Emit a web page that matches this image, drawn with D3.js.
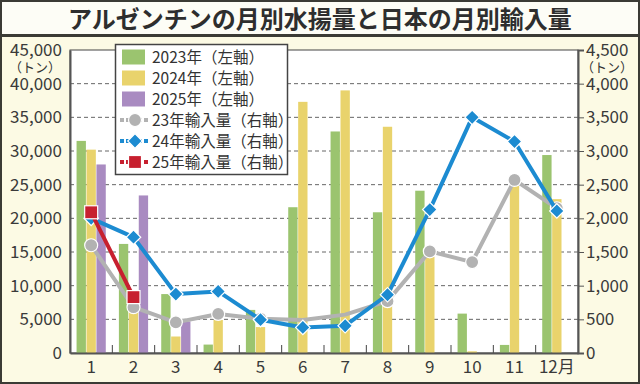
<!DOCTYPE html>
<html>
<head>
<meta charset="utf-8">
<script src="https://cdn.jsdelivr.net/npm/d3@7"></script>
<style>
  body { margin: 0; background: #fff; }
  svg { display: block; }
  text { font-family: "Noto Sans CJK JP", "Noto Sans", sans-serif; fill: #333; }
</style>
</head>
<body>
<div id="chart"></div>
<script>
// 月別データ
const months = ["1", "2", "3", "4", "5", "6", "7", "8", "9", "10", "11", "12月"];
const catch2023 = [31500, 16200, 8750, 1250, 6400, 21650, 32900, 20900, 24100, 5850, 1200, 29400];
const catch2024 = [30200, 6200, 2450, 4900, 3850, 37300, 39000, 33600, 14300, 250, 24800, 22850];
const catch2025 = [28000, 23400, 4700, null, null, null, null, null, null, null, null, null];
const import23 = [1600, 680, 455, 580, 510, 490, 570, 770, 1510, 1350, 2570, 2150];
const import24 = [2000, 1720, 875, 915, 495, 380, 405, 865, 2130, 3500, 3140, 2110];
const import25 = [2090, 830];
const leftTicks = [0, 5000, 10000, 15000, 20000, 25000, 30000, 35000, 40000, 45000];
const rightTicks = [0, 500, 1000, 1500, 2000, 2500, 3000, 3500, 4000, 4500];
// 23年の線で印が見えない月
const hidden23 = ["6", "7"];

const W = 640, H = 384;
const plot = {left: 70, right: 578, top: 50, bottom: 353};

const svg = d3.select("#chart").append("svg")
    .attr("width", W)
    .attr("height", H);

// 背景と枠
svg.append("rect").attr("x", 1).attr("y", 1).attr("width", W - 2).attr("height", H - 2)
    .attr("fill", "#fcfae4").attr("stroke", "#3b3b35").attr("stroke-width", 2);
svg.append("rect").attr("x", 2).attr("y", 2).attr("width", W - 4).attr("height", 33)
    .attr("fill", "#fdfdf6");
svg.append("line").attr("x1", 0).attr("x2", W).attr("y1", 35.5).attr("y2", 35.5)
    .attr("stroke", "#3b3b35").attr("stroke-width", 3);

svg.append("text")
    .attr("x", W / 2).attr("y", 28)
    .attr("text-anchor", "middle")
    .attr("font-size", 24).attr("font-weight", "bold")
    .style("fill", "#2e2e2e")
    .text("アルゼンチンの月別水揚量と日本の月別輸入量");

// プロット領域
svg.append("rect")
    .attr("x", plot.left).attr("y", plot.top)
    .attr("width", plot.right - plot.left).attr("height", plot.bottom - plot.top)
    .attr("fill", "#fff").attr("stroke", "#444").attr("stroke-width", 1);

const x = d3.scaleBand().domain(months).range([plot.left, plot.right])
    .paddingInner(0.31).paddingOuter(0.155);
const xSub = d3.scaleBand().domain(["a", "b", "c"]).range([0, x.bandwidth()]).paddingInner(0.06);
const yL = d3.scaleLinear().domain([0, 45000]).range([plot.bottom, plot.top]);
const yR = d3.scaleLinear().domain([0, 4500]).range([plot.bottom, plot.top]);

// 目盛り線
svg.append("g").selectAll("line")
    .data(leftTicks.filter(d => d > 0 && d < 45000))
    .enter().append("line")
    .attr("x1", plot.left).attr("x2", plot.right)
    .attr("y1", d => yL(d)).attr("y2", d => yL(d))
    .attr("stroke", "#666").attr("stroke-width", 1).attr("stroke-dasharray", "4,3");

// 棒
const barSeries = [
  {key: "a", values: catch2023, color: "#9bc46f"},
  {key: "b", values: catch2024, color: "#e9d36c"},
  {key: "c", values: catch2025, color: "#a98bc1"}
];
barSeries.forEach(function(s) {
  svg.append("g").selectAll("rect")
    .data(months.map((m, i) => ({m: m, v: s.values[i]})).filter(d => d.v != null))
    .enter().append("rect")
    .attr("x", d => x(d.m) + xSub(s.key))
    .attr("width", xSub.bandwidth())
    .attr("y", d => yL(d.v))
    .attr("height", d => plot.bottom - yL(d.v))
    .attr("fill", s.color);
});

// 月の区切り目盛り
svg.append("g").selectAll("line")
    .data(months.slice(1))
    .enter().append("line")
    .attr("x1", d => x(d) - x.step() * x.paddingInner() / 2)
    .attr("x2", d => x(d) - x.step() * x.paddingInner() / 2)
    .attr("y1", plot.bottom - 8).attr("y2", plot.bottom)
    .attr("stroke", "#444").attr("stroke-width", 1);

// 軸
const axisL = svg.append("g")
    .attr("transform", "translate(" + plot.left + ",0)")
    .call(d3.axisLeft(yL).tickValues(leftTicks).tickSize(0).tickPadding(8).tickFormat(d3.format(",")));
axisL.select(".domain").attr("stroke", "#555").attr("stroke-width", 2);
axisL.selectAll("text").attr("font-size", 17).style("fill", "#3a3a3a").attr("font-family", "Liberation Sans");

const axisR = svg.append("g")
    .attr("transform", "translate(" + plot.right + ",0)")
    .call(d3.axisRight(yR).tickValues(rightTicks).tickSize(6).tickPadding(2).tickFormat(d3.format(",")));
axisR.select(".domain").attr("stroke", "#555").attr("stroke-width", 2);
axisR.selectAll("line").attr("stroke", "#555");
axisR.selectAll("text").attr("font-size", 17).style("fill", "#3a3a3a").attr("font-family", "Liberation Sans");

const axisB = svg.append("g")
    .attr("transform", "translate(0," + plot.bottom + ")")
    .call(d3.axisBottom(x).tickSize(0).tickPadding(8));
axisB.select(".domain").attr("stroke", "#555").attr("stroke-width", 2);
axisB.selectAll("text").attr("font-size", 17).style("fill", "#3a3a3a").attr("font-family", "Liberation Sans");

svg.append("text").attr("x", 35).attr("y", 72).attr("text-anchor", "middle")
    .attr("font-size", 13).text("（トン）");
svg.append("text").attr("x", 607).attr("y", 72).attr("text-anchor", "middle")
    .attr("font-size", 13).text("（トン）");

// 折れ線
const cx = d => x(d.m) + x.bandwidth() / 2;
const lineSeries = [
  {values: import23, color: "#b2b2b2", shape: "circle", hide: hidden23},
  {values: import24, color: "#1c8bd1", shape: "diamond", hide: []},
  {values: import25, color: "#c7202f", shape: "square", hide: []}
];

function drawMarker(g, shape, color, px, py) {
  if (shape === "circle") {
    g.append("circle").attr("cx", px).attr("cy", py).attr("r", 6.5)
      .attr("fill", color).attr("stroke", "#fff").attr("stroke-width", 1.2);
  } else if (shape === "diamond") {
    g.append("path").attr("d", d3.symbol().type(d3.symbolSquare).size(105)())
      .attr("transform", "translate(" + px + "," + py + ") rotate(45)")
      .attr("fill", color).attr("stroke", "#fff").attr("stroke-width", 1.2);
  } else {
    g.append("rect").attr("x", px - 6.5).attr("y", py - 6.5).attr("width", 13).attr("height", 13)
      .attr("fill", color).attr("stroke", "#fff").attr("stroke-width", 1.2);
  }
}

lineSeries.forEach(function(s) {
  const pts = s.values.map((v, i) => ({m: months[i], v: v}));
  const g = svg.append("g");
  g.append("path")
    .datum(pts)
    .attr("fill", "none")
    .attr("stroke", s.color)
    .attr("stroke-width", 4)
    .attr("stroke-linejoin", "round")
    .attr("d", d3.line().x(cx).y(d => yR(d.v)));
  pts.filter(d => s.hide.indexOf(d.m) < 0)
    .forEach(d => drawMarker(g, s.shape, s.color, cx(d), yR(d.v)));
});

// 凡例
const legendItems = [
  {label: "2023年（左軸）", color: "#9bc46f", type: "bar"},
  {label: "2024年（左軸）", color: "#e9d36c", type: "bar"},
  {label: "2025年（左軸）", color: "#a98bc1", type: "bar"},
  {label: "23年輸入量（右軸）", color: "#b2b2b2", type: "circle"},
  {label: "24年輸入量（右軸）", color: "#1c8bd1", type: "diamond"},
  {label: "25年輸入量（右軸）", color: "#c7202f", type: "square"}
];
const legend = svg.append("g");
legend.append("rect").attr("x", 115.5).attr("y", 44.5).attr("width", 172).attr("height", 130)
    .attr("fill", "#fff").attr("stroke", "#444").attr("stroke-width", 1.5);
legendItems.forEach(function(d, i) {
  const yy = 57 + i * 21;
  if (d.type === "bar") {
    legend.append("rect").attr("x", 122).attr("y", yy - 7.5).attr("width", 23).attr("height", 15)
      .attr("fill", d.color);
  } else {
    legend.append("line").attr("x1", 120).attr("x2", 150).attr("y1", yy).attr("y2", yy)
      .attr("stroke", d.color).attr("stroke-width", 4).attr("stroke-dasharray", "4,2");
    drawMarker(legend, d.type, d.color, 135, yy);
  }
  legend.append("text").attr("x", 152).attr("y", yy + 5.5)
    .attr("font-size", 15.5).text(d.label);
});
</script>
</body>
</html>
